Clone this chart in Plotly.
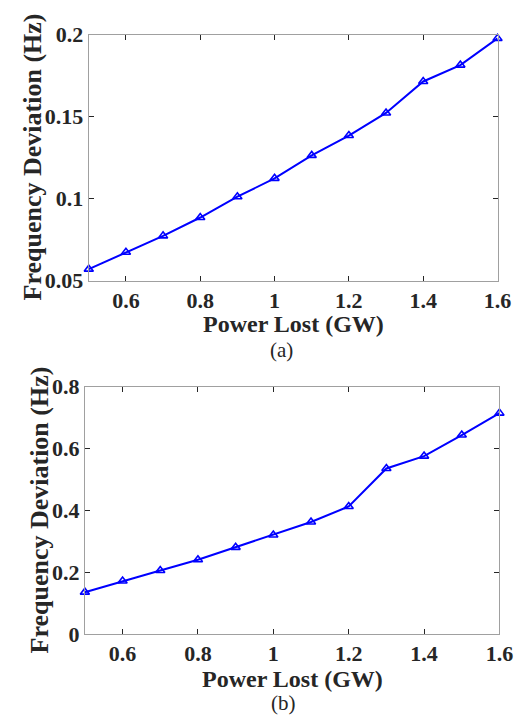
import plotly.graph_objects as go

power_lost = [0.5, 0.6, 0.7, 0.8, 0.9, 1.0, 1.1, 1.2, 1.3, 1.4, 1.5, 1.6]
freq_dev_a = [0.057, 0.0673, 0.0773, 0.0885, 0.1012, 0.1124, 0.1264, 0.1385, 0.1523, 0.1715, 0.1815, 0.1978]
freq_dev_b = [0.135, 0.171, 0.205, 0.240, 0.280, 0.320, 0.362, 0.412, 0.535, 0.575, 0.643, 0.714]

x_ticks = [0.6, 0.8, 1.0, 1.2, 1.4, 1.6]
x_ticktext = ["0.6", "0.8", "1", "1.2", "1.4", "1.6"]
ya_ticks = [0.05, 0.1, 0.15, 0.2]
ya_ticktext = ["0.05", "0.1", "0.15", "0.2"]
yb_ticks = [0, 0.2, 0.4, 0.6, 0.8]
yb_ticktext = ["0", "0.2", "0.4", "0.6", "0.8"]

W, H = 522, 720
FONT = "Liberation Serif"
BLUE = "#0000ff"
DARK = "#262626"

def px_x(v):
    return v / W

def px_y(v):
    return 1 - v / H

def bold(labels):
    return ["<b>%s</b>" % s for s in labels]

fig = go.Figure()
line_style = dict(color=BLUE, width=2)
marker_style = dict(symbol="triangle-up-open", size=8, color=BLUE, line=dict(color=BLUE, width=1.6))

fig.add_trace(go.Scatter(x=power_lost, y=freq_dev_a, mode="lines+markers",
                         line=line_style, marker=marker_style, xaxis="x", yaxis="y",
                         showlegend=False, cliponaxis=False))
fig.add_trace(go.Scatter(x=power_lost, y=freq_dev_b, mode="lines+markers",
                         line=line_style, marker=marker_style, xaxis="x2", yaxis="y2",
                         showlegend=False, cliponaxis=False))

tick_font = dict(family=FONT, size=22, color=DARK)
axis_common = dict(showline=True, linecolor="#a0a0a0", linewidth=1, mirror="ticks",
                   ticks="inside", ticklen=5, tickcolor=DARK, tickwidth=1,
                   showgrid=False, zeroline=False, tickfont=tick_font)

fig.update_layout(
    width=W, height=H,
    margin=dict(l=0, r=0, t=0, b=0),
    paper_bgcolor="white", plot_bgcolor="white",
    xaxis=dict(domain=[px_x(83), px_x(503)], range=[0.5, 1.6], anchor="y",
               tickvals=x_ticks, ticktext=bold(x_ticktext), **axis_common),
    yaxis=dict(domain=[px_y(270), px_y(15.3)], range=[0.05, 0.2], anchor="x",
               tickvals=ya_ticks, ticktext=bold(ya_ticktext), **axis_common),
    xaxis2=dict(domain=[px_x(79), px_x(505)], range=[0.5, 1.6], anchor="y2",
                tickvals=x_ticks, ticktext=bold(x_ticktext), **axis_common),
    yaxis2=dict(domain=[px_y(636), px_y(379.7)], range=[0, 0.8], anchor="x2",
                tickvals=yb_ticks, ticktext=bold(yb_ticktext), **axis_common),
)

xt_font = dict(family=FONT, size=24, color=DARK)
yt_font = dict(family=FONT, size=26, color=DARK)
label_font = dict(family=FONT, size=21, color=DARK)
annotations = [
    dict(text="<b>Power Lost (GW)</b>", x=px_x(293), y=px_y(315), font=xt_font),
    dict(text="<b>Frequency Deviation (Hz)</b>", x=px_x(25), y=px_y(142), textangle=-90, font=yt_font),
    dict(text="(a)", x=px_x(281), y=px_y(342), font=label_font),
    dict(text="<b>Power Lost (GW)</b>", x=px_x(292), y=px_y(683), font=xt_font),
    dict(text="<b>Frequency Deviation (Hz)</b>", x=px_x(32), y=px_y(508), textangle=-90, font=yt_font),
    dict(text="(b)", x=px_x(283), y=px_y(708), font=label_font),
]
for a in annotations:
    a.update(xref="paper", yref="paper", showarrow=False, xanchor="center", yanchor="middle")
fig.update_layout(annotations=annotations)

fig.write_html("out.html")
